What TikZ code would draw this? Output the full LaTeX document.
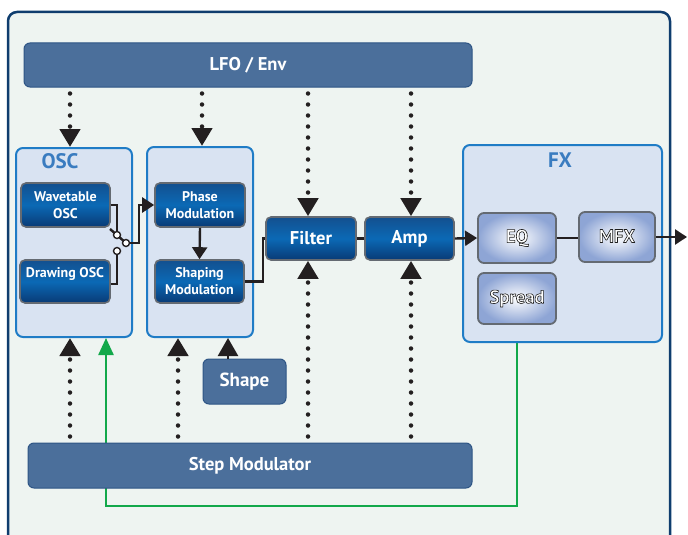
\documentclass[tikz,border=0pt]{standalone}
\usepackage{fontspec}
\setmainfont{PT Sans}
\usetikzlibrary{arrows.meta,calc}
\definecolor{framefill}{HTML}{EEF4F1}
\definecolor{frameline}{HTML}{0F3D6E}
\definecolor{groupfill}{HTML}{D9E3F2}
\definecolor{groupline}{HTML}{1F7CC6}
\definecolor{grouptext}{HTML}{3A7CC0}
\definecolor{barfill}{HTML}{4B6F9B}
\definecolor{barline}{HTML}{2E5585}
\definecolor{darktop}{HTML}{13508F}
\definecolor{darkmid}{HTML}{0B69B5}
\definecolor{darkbot}{HTML}{093A75}
\definecolor{nodeline}{HTML}{646A72}
\definecolor{fxouter}{HTML}{8EA5D5}
\definecolor{wire}{HTML}{231F20}
\definecolor{greenline}{HTML}{12A84A}
% white lettering with a thin dark stroked rim (text render mode 2)
\newcommand\ol[2][0.6]{{\special{pdf:literal direct 2 Tr #1 w 1 j 0.12 0.12 0.12 RG}#2\special{pdf:literal direct 0 Tr}}}
\pgfdeclarelayer{framelayer}
\pgfdeclarelayer{behind}
\pgfsetlayers{framelayer,behind,main}
\tikzset{
  bar/.style={draw=barline, line width=1pt, fill=barfill, rounded corners=6pt,
    text=white, font=\bfseries\fontsize{18.5}{21}\selectfont},
  group/.style={draw=groupline, line width=2pt, fill=groupfill, rounded corners=7pt},
  grouplabel/.style={text=grouptext, font=\bfseries\fontsize{21}{23}\selectfont},
  darkbox/.style={draw=nodeline, line width=1.6pt, rounded corners=5pt,
    top color=darktop, bottom color=darkbot, middle color=darkmid,
    text=white, align=center, font=\bfseries\fontsize{14}{17}\selectfont},
  bigtext/.style={font=\bfseries\fontsize{18.5}{21}\selectfont},
  fxbox/.style={draw=nodeline, line width=1.8pt, rounded corners=6pt,
    inner color=white, outer color=fxouter, shading=radial,
    text=white, font=\bfseries\fontsize{18.5}{20}\selectfont},
  dotarrow/.style={line width=4.5pt, line cap=round, dash pattern=on 0pt off 11pt,
    wire, -{Triangle[width=20pt,length=18pt]}},
  wireline/.style={line width=2.4pt, wire},
  wirearrow/.style={wireline, -{Triangle[width=15pt,length=12pt]}},
  swcircle/.style={circle, draw=wire, line width=1.4pt, fill=white, inner sep=0pt, minimum size=7pt},
  greenarrow/.style={line width=2.4pt, greenline, -{Triangle[width=15pt,length=17pt]}}
}
\begin{document}
\begin{tikzpicture}[x=1pt,y=-1pt]
\useasboundingbox (0,0) rectangle (688,535);
\begin{pgfonlayer}{framelayer}
  \draw[frameline, line width=2.5pt, fill=framefill, rounded corners=9pt] (8,12) rectangle (670,560);
\end{pgfonlayer}

% modulation sources
\node[bar, minimum width=448pt, minimum height=44pt] (lfo) at (248,65) {LFO / Env};
\node[bar, minimum width=444pt, minimum height=45pt] (step) at (250,465.5) {Step Modulator};
\node[bar, minimum width=83pt, minimum height=45pt, font=\bfseries\fontsize{19}{21}\selectfont] (shape) at (244.5,381.5) {Shape};

% group frames
\node[group, minimum width=116pt, minimum height=189pt] (osc) at (74,242.5) {};
\node[group, minimum width=106pt, minimum height=190pt] (mod) at (200,242) {};
\node[group, minimum width=199pt, minimum height=197pt] (fx) at (562.5,243.5) {};
\node[grouplabel] (osclabel) at (60,161) {OSC};
\node[grouplabel] (fxlabel) at (560,160) {FX};

% oscillator and voice blocks
\node[darkbox, minimum width=89pt, minimum height=44pt] (wt) at (65.5,205) {Wavetable\\OSC};
\node[darkbox, minimum width=90pt, minimum height=43pt, text height=10pt, text depth=19pt] (dr) at (65,281.5) {Drawing OSC};
\node[darkbox, minimum width=90pt, minimum height=44pt] (phase) at (200,205) {Phase\\Modulation};
\node[darkbox, minimum width=89pt, minimum height=43pt] (shap) at (199.5,281.5) {Shaping\\Modulation};
\node[darkbox, bigtext, minimum width=90pt, minimum height=43pt] (filter) at (311,238.5) {Filter};
\node[darkbox, bigtext, minimum width=89pt, minimum height=43pt] (amp) at (409.5,238.5) {Amp};

% effect blocks
\node[fxbox, minimum width=78pt, minimum height=50pt] (eq) at (517,238) {\ol{EQ}};
\node[fxbox, minimum width=76pt, minimum height=50pt] (mfx) at (617,237) {\raisebox{2pt}{\ol{MFX}}};
\node[fxbox, minimum width=78pt, minimum height=51pt] (spread) at (517,298.5) {\ol{Spread}};

% helper coordinates
\coordinate (xa) at (70,0);
\coordinate (xb) at (202,0);
\coordinate (xc) at (308,0);
\coordinate (xd) at (411,0);
\coordinate (xe) at (178,0);
\coordinate (xf) at (228,0);
\coordinate (sw1) at (117,235);
\coordinate (sw2) at (126,243);
\coordinate (sw3) at (117,251);
\coordinate (lever) at (110,229);
\coordinate (gcorner) at (106,506);
\coordinate (out) at (687,237);

% modulation routing from LFO / Env
\draw[dotarrow, shorten <=6pt] (lfo.south -| xa) -- (osc.north -| xa);
\draw[dotarrow, shorten <=6pt] (lfo.south -| xb) -- (mod.north -| xb);
\draw[dotarrow, shorten <=6pt] (lfo.south -| xc) -- (filter.north -| xc);
\draw[dotarrow, shorten <=6pt] (lfo.south -| xd) -- (amp.north -| xd);

% modulation routing from the step modulator
\draw[dotarrow, shorten <=6pt] (step.north -| xa) -- (osc.south -| xa);
\draw[dotarrow, shorten <=6pt] (step.north -| xe) -- (mod.south -| xe);
\draw[dotarrow, shorten <=6pt] (step.north -| xc) -- (filter.south -| xc);
\draw[dotarrow, shorten <=6pt] (step.north -| xd) -- (amp.south -| xd);
\draw[wireline, -{Triangle[width=20pt,length=18pt]}] (shape.north -| xf) -- (mod.south -| xf);

% spread feedback to the oscillators
\begin{pgfonlayer}{behind}
  \draw[greenarrow] (spread.south) |- (gcorner) -- (osc.south -| gcorner);
\end{pgfonlayer}

% oscillator selector switch
\draw[wireline] (wt.east) -| (sw1);
\draw[wireline] (dr.east |- 0,284) -| (sw3);
\draw[wireline] (lever) -- (sw2);
\draw[wirearrow] (sw2) -- ++(13,0) |- (phase.west);
\node[swcircle] (c1) at (sw1) {};
\node[swcircle] (c2) at (sw2) {};
\node[swcircle] (c3) at (sw3) {};

% audio path
\draw[wirearrow] (phase.south) -- (shap.north);
\draw[wireline] (shap.east) -- ++(18,0) |- (filter.west);
\draw[wireline] (filter.east) -- (amp.west);
\draw[wirearrow] (amp.east) -- (eq.west);
\draw[wireline] (eq.east) -- (eq.east -| mfx.west);
\draw[wirearrow] (mfx.east) -- (out);
\end{tikzpicture}
\end{document}
